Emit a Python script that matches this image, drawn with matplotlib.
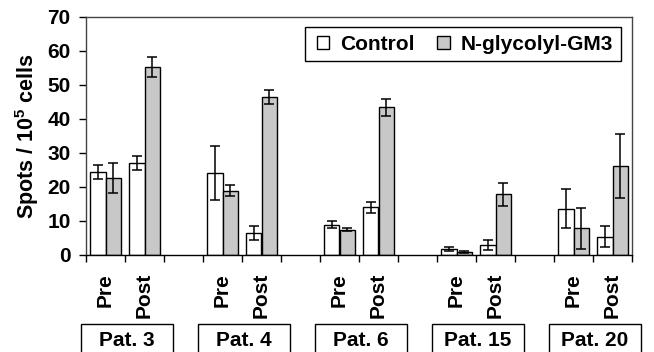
import matplotlib
matplotlib.use('Agg')
import matplotlib.pyplot as plt
import matplotlib.transforms as mtransforms
from matplotlib.patches import Rectangle
import numpy as np

plt.rcParams['font.family'] = ['Liberation Sans', 'DejaVu Sans']
plt.rcParams['font.weight'] = 'bold'
plt.rcParams['mathtext.fontset'] = 'custom'
plt.rcParams['mathtext.bf'] = 'Liberation Sans:bold'
plt.rcParams['mathtext.rm'] = 'Liberation Sans:bold'

# data
patients = ['Pat. 3', 'Pat. 4', 'Pat. 6', 'Pat. 15', 'Pat. 20']
phases = ['Pre', 'Post']
control_mean = [24.5, 27.1, 24.2, 6.4, 8.9, 14.0, 1.8, 2.9, 13.6, 5.4]
control_err = [2.0, 2.1, 8.0, 2.1, 1.05, 1.5, 0.55, 1.5, 5.7, 3.0]
gm3_mean = [22.7, 55.2, 18.9, 46.6, 7.5, 43.4, 0.8, 17.8, 7.8, 26.2]
gm3_err = [4.5, 2.9, 1.65, 2.05, 0.5, 2.5, 0.3, 3.3, 6.0, 9.5]

FS = 15

# slot layout: Pre, Post, gap for each patient (no gap after the last)
pos = []
labels = []
for k in range(len(patients)):
    for j, ph in enumerate(phases):
        pos.append(3 * k + j + 0.5)
        labels.append(ph)
pos = np.array(pos)
n_slots = 3 * len(patients) - 1

fig = plt.figure(figsize=(6.54, 3.52), dpi=100)
ax = fig.add_axes([86 / 654, 1 - 255 / 352, 546 / 654, 238 / 352])

w = 0.39
ax.bar(pos - w / 2, control_mean, w, color='white', edgecolor='black', linewidth=1.0,
       label='Control', zorder=2)
ax.bar(pos + w / 2, gm3_mean, w, color='#c8c8c8', edgecolor='black', linewidth=1.0,
       label='N-glycolyl-GM3', zorder=2)
ax.errorbar(pos - w / 2, control_mean, yerr=control_err, fmt='none', ecolor='black',
            elinewidth=1.1, capsize=3.5, capthick=1.1, zorder=3)
ax.errorbar(pos + w / 2, gm3_mean, yerr=gm3_err, fmt='none', ecolor='black',
            elinewidth=1.1, capsize=3.5, capthick=1.1, zorder=3)

ax.set_xlim(0, n_slots)
ax.set_ylim(0, 70)
ax.set_yticks(range(0, 71, 10))
ax.tick_params(axis='y', labelsize=FS, length=5, width=1, direction='out', pad=6)

ax.set_xticks(pos)
ax.set_xticklabels(labels, rotation=90, fontsize=FS, fontweight='bold')
ax.tick_params(axis='x', which='major', length=0, pad=13)
ax.set_xticks(np.arange(0, n_slots + 1), minor=True)
ax.tick_params(axis='x', which='minor', length=5, width=1, direction='out')

for sp in ax.spines.values():
    sp.set_color('#444444')
    sp.set_linewidth(1.0)
ax.spines['bottom'].set_color('black')

ax.set_ylabel(r'Spots / 10$^{\mathbf{5}}$ cells', fontsize=FS + 0.5, fontweight='bold')
ax.yaxis.set_label_coords(-0.082, 0.5)

# legend: contents without frame, frame drawn as a separate box
leg = ax.legend(loc='center left', bbox_to_anchor=(0.423, 0.886), borderaxespad=0,
                ncol=2, fontsize=FS, frameon=False,
                handlelength=0.58, handleheight=0.58, handletextpad=0.53,
                columnspacing=1.1, borderpad=0)
ax.add_patch(Rectangle((0.401, 0.815), 0.579, 0.142, transform=ax.transAxes,
                       facecolor='none', edgecolor='black', linewidth=1.0, zorder=4))

# patient boxes below the axis
trans = mtransforms.blended_transform_factory(ax.transData, fig.transFigure)
for k, name in enumerate(patients):
    xc = 3 * k + 1.05
    rect = Rectangle((xc - 1.18, -0.05), 2.36, 0.05 + 28 / 352, transform=trans,
                     facecolor='white', edgecolor='black', linewidth=1.0, clip_on=False)
    fig.add_artist(rect)
    fig.text(xc, 5.5 / 352, name, transform=trans, ha='center', va='baseline',
             fontsize=FS, fontweight='bold')

fig.savefig('out.png', dpi=100)
